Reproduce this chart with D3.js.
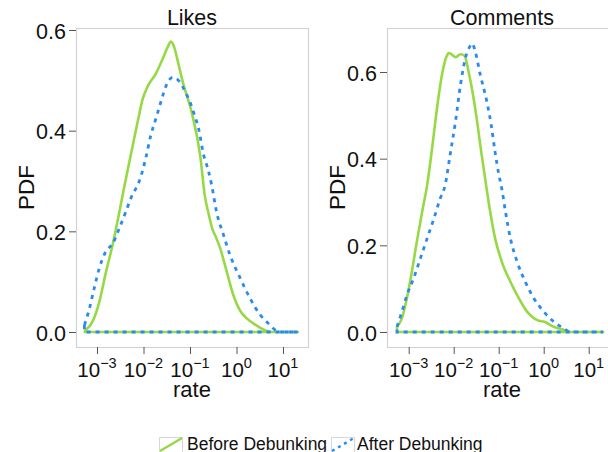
<!DOCTYPE html>
<head>
  <meta charset="utf-8">
  <script src="https://d3js.org/d3.v7.min.js"></script>
  <style>
    body { margin:0; background:#fff; }
    text { font-family: "Liberation Sans", Arial, Helvetica, sans-serif; fill:#111; }
  </style>
</head>
<body>
<svg width="608" height="452" id="vis"></svg>
<script>
// density curves, x = log10(rate), y = PDF
var likesBefore = [[-3.26,0.004],[-3.22,0.006],[-3.09,0.022],[-2.95,0.06],[-2.81,0.118],[-2.66,0.175],[-2.52,0.238],[-2.41,0.29],[-2.27,0.353],[-2.12,0.42],[-2.02,0.462],[-1.91,0.488],[-1.73,0.514],[-1.60,0.54],[-1.48,0.566],[-1.41,0.577],[-1.34,0.566],[-1.25,0.533],[-1.15,0.495],[-0.96,0.435],[-0.78,0.35],[-0.68,0.27],[-0.6,0.235],[-0.52,0.205],[-0.44,0.188],[-0.35,0.166],[-0.21,0.12],[-0.07,0.074],[0.08,0.042],[0.22,0.027],[0.43,0.013],[0.6,0.004],[0.75,0],[1.32,0]];
var likesAfter = [[-3.27,0.014],[-3.17,0.044],[-3.06,0.087],[-2.95,0.127],[-2.81,0.16],[-2.66,0.176],[-2.52,0.206],[-2.38,0.239],[-2.27,0.266],[-2.16,0.286],[-2.09,0.30],[-1.95,0.346],[-1.84,0.392],[-1.73,0.425],[-1.62,0.459],[-1.52,0.488],[-1.37,0.506],[-1.23,0.498],[-1.09,0.475],[-0.98,0.452],[-0.9,0.43],[-0.82,0.406],[-0.71,0.353],[-0.6,0.319],[-0.53,0.29],[-0.43,0.239],[-0.28,0.193],[-0.14,0.153],[0.08,0.107],[0.29,0.067],[0.51,0.034],[0.72,0.014],[0.86,0.002],[0.95,0],[1.32,0]];
var commentsBefore = [[-3.26,0.012],[-3.15,0.032],[-3.04,0.078],[-2.93,0.139],[-2.82,0.208],[-2.70,0.278],[-2.59,0.339],[-2.48,0.424],[-2.37,0.517],[-2.26,0.594],[-2.16,0.636],[-2.11,0.644],[-2.04,0.64],[-1.96,0.634],[-1.85,0.641],[-1.76,0.638],[-1.67,0.601],[-1.57,0.547],[-1.48,0.486],[-1.39,0.417],[-1.28,0.339],[-1.19,0.278],[-1.08,0.216],[-0.93,0.162],[-0.74,0.116],[-0.59,0.085],[-0.37,0.047],[-0.22,0.032],[-0.11,0.026],[0.0,0.024],[0.22,0.012],[0.44,0.005],[0.56,0],[1.32,0]];
var commentsAfter = [[-3.26,0.012],[-3.15,0.047],[-3.04,0.085],[-2.89,0.124],[-2.74,0.17],[-2.59,0.216],[-2.44,0.262],[-2.30,0.308],[-2.19,0.339],[-2.08,0.409],[-1.96,0.486],[-1.85,0.57],[-1.74,0.632],[-1.64,0.659],[-1.59,0.666],[-1.52,0.647],[-1.41,0.594],[-1.26,0.53],[-1.17,0.48],[-1.08,0.415],[-1.0,0.365],[-0.93,0.33],[-0.85,0.278],[-0.74,0.216],[-0.59,0.162],[-0.41,0.116],[-0.22,0.078],[0.0,0.047],[0.22,0.024],[0.44,0.009],[0.59,0],[1.32,0]];

var titles = ["Likes", "Comments"];
var seriesNames = ["Before Debunking", "After Debunking"];
var xTicks = [-3, -2, -1, 0, 1];
var yTicks = [0, 0.2, 0.4, 0.6];

var green = "#97d945", blue = "#2a8bee";

var svg = d3.select("#vis");

var panels = [
  {title: titles[0], before: likesBefore, after: likesAfter, box: [76, 308], xr: [97, 283], yr: [332, 30]},
  {title: titles[1], before: commentsBefore, after: commentsAfter, box: [387, 617], xr: [408.7, 588.7], yr: [332, 72]}
];
var boxTop = 28, boxBottom = 347;

panels.forEach(function(p) {
  var x = d3.scaleLog().domain([1e-3, 1e1]).range(p.xr),
      y = d3.scaleLinear().domain([0, 0.6]).range(p.yr);
  var g = svg.append("g");

  // panel border
  g.append("rect")
    .attr("x", p.box[0] + 0.5).attr("y", boxTop + 0.5)
    .attr("width", p.box[1] - p.box[0]).attr("height", boxBottom - boxTop)
    .attr("fill", "none").attr("stroke", "#d2d2d2").attr("stroke-width", 1.2);

  // y axis
  var ya = g.append("g")
    .attr("transform", "translate(" + p.box[0] + ",0)")
    .call(d3.axisLeft(y).tickValues(yTicks).tickSize(7).tickPadding(3).tickFormat(d3.format(".1f")));
  ya.select(".domain").remove();
  ya.selectAll("line").attr("stroke", "#555");
  ya.selectAll("text").attr("font-size", 21.5).attr("dy", "0.38em").attr("font-family", null);

  // x axis
  var xa = g.append("g")
    .attr("transform", "translate(0," + boxBottom + ")")
    .call(d3.axisBottom(x).tickValues(xTicks.map(function(d) { return Math.pow(10, d); })).tickSize(7).tickFormat(""));
  xa.select(".domain").remove();
  xa.selectAll("line").attr("stroke", "#555");

  var lab = g.selectAll(".xlab").data(xTicks).enter().append("text")
    .attr("class", "xlab")
    .attr("x", function(d) { return x(Math.pow(10, d)); })
    .attr("y", 377)
    .attr("text-anchor", "middle");
  lab.append("tspan").attr("font-size", 20.5).text("10");
  lab.append("tspan").attr("font-size", 14.5).attr("dy", -9)
    .text(function(d) { return String(d).replace("-", "\u2212"); });

  // titles
  var cx = (p.box[0] + p.box[1]) / 2;
  g.append("text").attr("x", cx).attr("y", 25).attr("text-anchor", "middle")
    .attr("font-size", 21.5).text(p.title);
  g.append("text").attr("x", cx).attr("y", 397).attr("text-anchor", "middle")
    .attr("font-size", 22).text("rate");
  g.append("text")
    .attr("transform", "translate(" + (p.box[0] - 42) + "," + ((boxTop + boxBottom) / 2) + ") rotate(-90)")
    .attr("text-anchor", "middle").attr("font-size", 22.5).text("PDF");

  // densities
  var area = d3.area()
    .x(function(d) { return x(Math.pow(10, d[0])); })
    .y0(y(0))
    .y1(function(d) { return y(d[1]); })
    .curve(d3.curveMonotoneX);

  g.append("path").datum(p.before).attr("d", area)
    .attr("fill", "none").attr("stroke", green).attr("stroke-width", 2.6)
    .attr("stroke-linejoin", "round");
  g.append("path").datum(p.after).attr("d", area)
    .attr("fill", "none").attr("stroke", blue).attr("stroke-width", 2.8)
    .attr("stroke-dasharray", "4,5");
});

// legend
var leg = svg.append("g");
var keys = [
  {name: seriesNames[0], color: green, dash: null, kx: 159, tx: 187},
  {name: seriesNames[1], color: blue, dash: "3,4", kx: 331, tx: 357}
];
keys.forEach(function(k) {
  leg.append("rect").attr("x", k.kx + 0.5).attr("y", 437.5).attr("width", 23).attr("height", 15)
    .attr("fill", "#fff").attr("stroke", "#d8d8d8");
  leg.append("line").attr("x1", k.kx + 1).attr("y1", 451).attr("x2", k.kx + 23).attr("y2", 438)
    .attr("stroke", k.color).attr("stroke-width", 2.4).attr("stroke-dasharray", k.dash);
  leg.append("text").attr("x", k.tx).attr("y", 449.5).attr("font-size", 17.5).text(k.name);
});
</script>
</body>
